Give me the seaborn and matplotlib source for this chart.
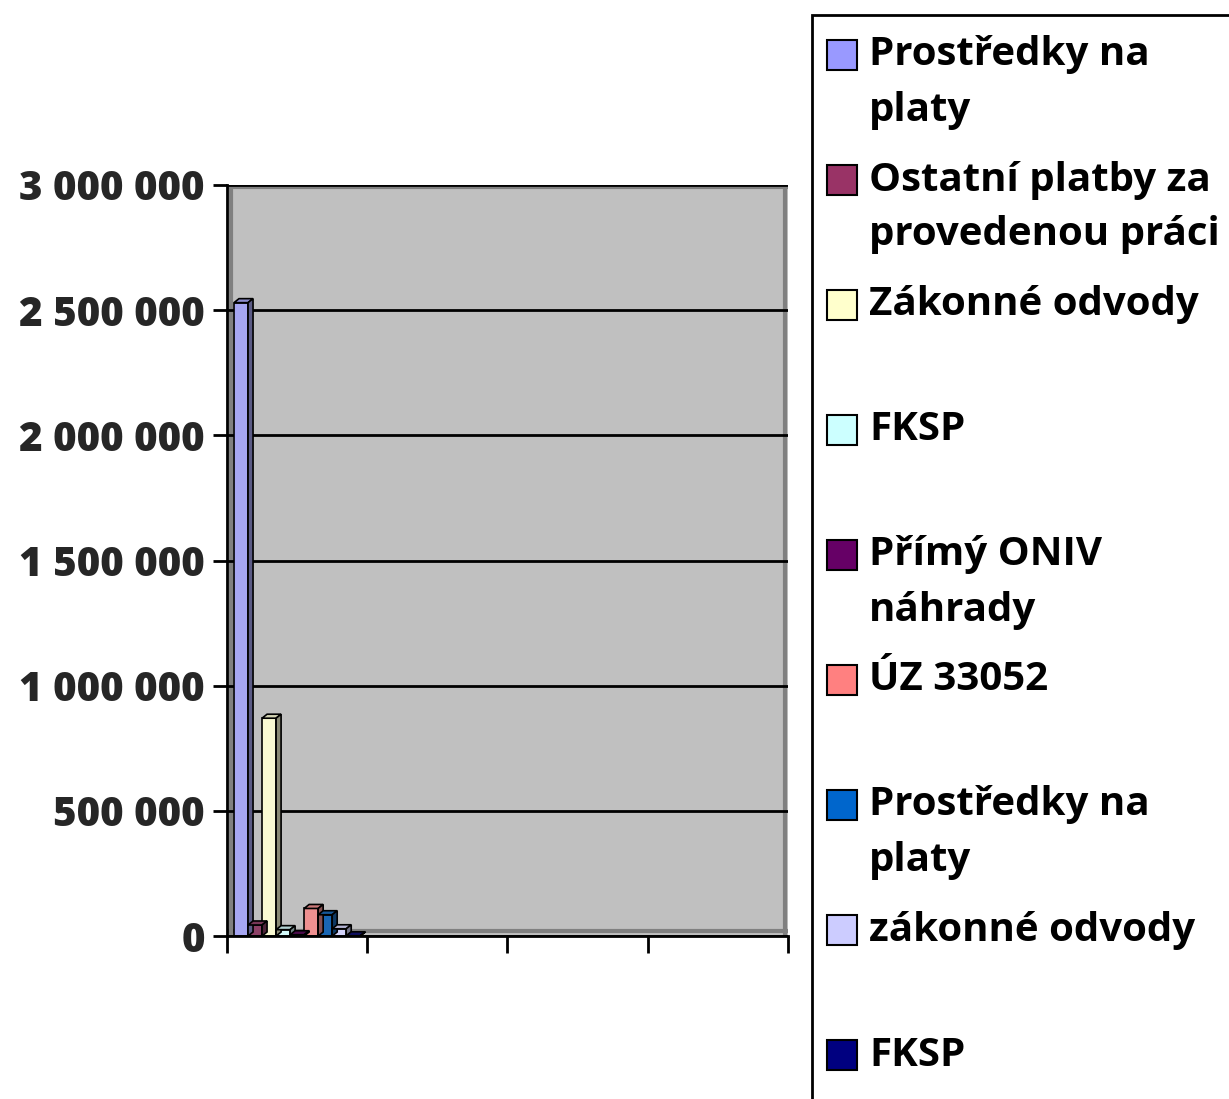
import numpy as np
import pandas as pd
import matplotlib
matplotlib.use("Agg")
import matplotlib.pyplot as plt
import seaborn as sns
from matplotlib.patches import Polygon, Rectangle
from matplotlib.transforms import IdentityTransform
from matplotlib.ticker import FuncFormatter

# ---- data ----
categories = ["1", "2", "3", "4"]
series = ["Prostředky na platy", "Ostatní platby za provedenou práci", "Zákonné odvody",
          "FKSP", "Přímý ONIV náhrady", "ÚZ 33052", "Prostředky na platy ",
          "zákonné odvody", "FKSP "]
legend_labels = [["Prostředky na", "platy"], ["Ostatní platby za", "provedenou práci"],
                 ["Zákonné odvody"], ["FKSP"], ["Přímý ONIV", "náhrady"], ["ÚZ 33052"],
                 ["Prostředky na", "platy"], ["zákonné odvody"], ["FKSP"]]
values_cat1 = [2530000, 44000, 870000, 25300, 5000, 110000, 85000, 28900, 850]
colors = ["#9999FF", "#993366", "#FFFFCC", "#CCFFFF", "#660066", "#FF8080",
          "#0066CC", "#CCCCFF", "#000080"]
yticks = [0, 500000, 1000000, 1500000, 2000000, 2500000, 3000000]

rows = []
for ci, c in enumerate(categories):
    for s, v in zip(series, values_cat1):
        rows.append({"cat": c, "series": s, "value": v if ci == 0 else np.nan})
df = pd.DataFrame(rows)

sns.set_theme(style="white")
FONT = ["Open Sans", "DejaVu Sans"]
plt.rcParams["font.family"] = FONT
plt.rcParams["font.weight"] = "bold"

W, H = 1229, 1099
fig = plt.figure(figsize=(W / 100, H / 100), dpi=100)
ax = fig.add_axes([227 / W, 1 - 936 / H, (788 - 227) / W, (936 - 185) / H])
ax.set_facecolor("#C0C0C0")

sns.barplot(data=df, x="cat", y="value", hue="series", hue_order=series,
            order=categories, palette=colors, edgecolor="black", linewidth=1.2,
            width=0.9, ax=ax, legend=False, errorbar=None)

ax.set_ylim(0, 3000000)
ax.set_xlim(-0.5, 3.5)
ax.set_yticks(yticks)
ax.yaxis.set_major_formatter(FuncFormatter(lambda v, p: f"{int(v):,}".replace(",", " ")))
ax.set_xticks([-0.5, 0.5, 1.5, 2.5, 3.5])
ax.set_xticklabels([])
ax.set_xlabel("")
ax.set_ylabel("")
ax.grid(axis="y", color="black", linewidth=2)
ax.set_axisbelow(True)
ax.tick_params(axis="y", direction="out", length=10, width=2, color="black",
               labelsize=29, pad=6, left=True)
ax.tick_params(axis="x", direction="out", length=12, width=2, color="black", bottom=True)
for side in ["top", "right"]:
    ax.spines[side].set_visible(False)
for side in ["left", "bottom"]:
    ax.spines[side].set_color("black")
    ax.spines[side].set_linewidth(2)

# 3D wall edges (back wall outline)
ax.plot([0.008, 0.008], [0.0, 1.0], transform=ax.transAxes, color="#808080", lw=3, zorder=0.5)
ax.plot([0.0, 1.0], [0.006, 0.006], transform=ax.transAxes, color="#808080", lw=3, zorder=0.5)
ax.plot([0.995, 0.995], [0.0, 1.0], transform=ax.transAxes, color="#808080", lw=3, zorder=0.5)
ax.plot([0.0, 1.0], [0.997, 0.997], transform=ax.transAxes, color="#808080", lw=3, zorder=0.5)

fig.canvas.draw()
for lbl in ax.get_yticklabels():
    lbl.set_fontweight("heavy")
    lbl.set_fontfamily(FONT)

# 3D depth on each bar, derived from the drawn patches
dx, dy = 5, 4
def shade(col, f):
    r, g, b = matplotlib.colors.to_rgb(col)
    return (r * f, g * f, b * f)
for p in list(ax.patches):
    if not isinstance(p, Rectangle):
        continue
    h = p.get_height()
    if not np.isfinite(h) or h <= 0:
        continue
    bb = p.get_window_extent()
    x0, x1, y0, y1 = bb.x0, bb.x1, bb.y0, bb.y1
    fc = p.get_facecolor()
    top = Polygon([[x0, y1], [x1, y1], [x1 + dx, y1 + dy], [x0 + dx, y1 + dy]],
                  closed=True, transform=IdentityTransform(), facecolor=shade(fc, 0.85),
                  edgecolor="black", lw=1.2, zorder=p.get_zorder() - 0.1)
    side = Polygon([[x1, y0], [x1 + dx, y0 + dy], [x1 + dx, y1 + dy], [x1, y1]],
                   closed=True, transform=IdentityTransform(), facecolor=shade(fc, 0.55),
                   edgecolor="black", lw=1.2, zorder=p.get_zorder() - 0.1)
    fig.add_artist(top)
    fig.add_artist(side)

# legend box (manual, Excel-like layout)
fig.add_artist(Rectangle((812 / W, -0.01), 0.5, 1 - 15 / H + 0.01, transform=fig.transFigure,
                         facecolor="white", edgecolor="black", lw=2, zorder=1))
for i, (lines, col) in enumerate(zip(legend_labels, colors)):
    yc = 55 + 125 * i
    fig.add_artist(Rectangle((827 / W, 1 - (yc + 15) / H), 30 / W, 30 / H,
                             transform=fig.transFigure, facecolor=col,
                             edgecolor="black", lw=1.5, zorder=2))
    for j, line in enumerate(lines):
        fig.text(869 / W, 1 - (yc + 55 * j) / H, line, fontsize=29, fontweight="bold",
                 va="center", ha="left", color="black", zorder=3, family=FONT)

fig.savefig("out.png", dpi=100)
